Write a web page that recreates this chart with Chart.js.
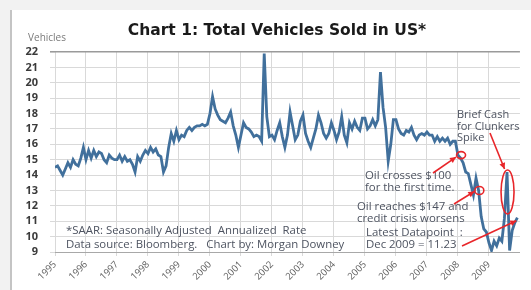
<!DOCTYPE html>
<html><head><meta charset="utf-8">
<script src="https://cdn.jsdelivr.net/npm/chart.js@4/dist/chart.umd.min.js"></script>
<style>
html,body{margin:0;padding:0;background:#fff;width:531px;height:290px;overflow:hidden;}
.topband{position:absolute;left:0;top:0;width:531px;height:10px;background:#f2f2f2;}
.leftband{position:absolute;left:0;top:0;width:10px;height:290px;background:#f2f2f2;}
.leftline{position:absolute;left:10px;top:10px;width:2px;height:280px;background:#c4c4c4;}
#wrap{position:absolute;left:0;top:0;width:531px;height:290px;}
</style>
</head><body>
<div class="topband"></div><div class="leftband"></div><div class="leftline"></div>
<div id="wrap"><canvas id="c" width="531" height="290"></canvas></div>
<script>
const startYear = 1995;
const tickYears = [1995,1996,1997,1998,1999,2000,2001,2002,2003,2004,2005,2006,2007,2008,2009];
const yTicks = [9,10,11,12,13,14,15,16,17,18,19,20,21,22];
// Total vehicles sold in US, SAAR (millions), monthly Jan 1995 - Dec 2009
const sales = [
 14.5,14.6,14.3,14.0,14.4,14.8,14.5,15.0,14.7,14.6,15.1,15.8,
 15.0,15.6,15.1,15.6,15.2,15.5,15.4,15.0,14.8,15.3,15.1,15.0,
 15.0,15.3,14.9,15.2,14.9,15.0,14.7,14.2,15.2,14.9,15.3,15.6,
 15.4,15.8,15.5,15.7,15.3,15.2,14.2,14.6,15.8,16.7,16.2,16.9,
 16.3,16.6,16.5,16.9,17.1,16.9,17.1,17.2,17.2,17.3,17.2,17.3,
 18.0,19.1,18.3,17.9,17.6,17.5,17.4,17.7,18.1,17.2,16.6,15.8,
 16.6,17.4,17.1,17.0,16.8,16.5,16.6,16.5,16.2,21.9,17.8,16.5,
 16.6,16.3,16.9,17.4,16.5,15.8,16.6,18.1,17.2,16.3,16.6,17.5,
 17.9,16.7,16.2,15.8,16.4,17.0,17.9,17.4,16.7,16.4,16.7,17.4,
 16.9,16.3,16.8,17.8,16.6,16.1,17.4,17.0,17.5,17.1,16.9,17.7,
 17.7,17.0,17.2,17.6,17.2,17.6,20.7,18.4,17.1,14.9,16.0,17.6,
 17.6,17.0,16.7,16.6,16.9,16.8,17.1,16.6,16.3,16.6,16.7,16.6,
 16.8,16.6,16.6,16.2,16.5,16.2,16.4,16.2,16.4,16.0,16.2,16.2,
 15.3,15.1,14.8,14.2,14.1,13.4,12.7,13.8,13.0,11.3,10.5,10.3,
 9.6,9.1,9.7,9.4,9.9,9.7,11.2,14.2,9.1,10.4,10.9,11.23
];
const titleText = 'Chart 1: Total Vehicles Sold in US*';
const unitText = 'Vehicles';
const noteLines = ['*SAAR: Seasonally Adjusted  Annualized  Rate', 'Data source: Bloomberg.   Chart by: Morgan Downey'];
const ann1 = ['Oil crosses $100', 'for the first time.'];
const ann2 = ['Oil reaches $147 and', 'credit crisis worsens'];
const ann3 = ['Latest Datapoint  :', 'Dec 2009 = 11.23'];
const ann4 = ['Brief Cash', 'for Clunkers', 'Spike'];

const points = sales.map((v,i)=>({x: startYear + i/12, y: v}));

function arrow(ctx, x1,y1,x2,y2){
  ctx.beginPath(); ctx.moveTo(x1,y1); ctx.lineTo(x2,y2); ctx.stroke();
  const a = Math.atan2(y2-y1,x2-x1), L=6, W=3;
  ctx.beginPath();
  ctx.moveTo(x2,y2);
  ctx.lineTo(x2-L*Math.cos(a)+W*Math.sin(a), y2-L*Math.sin(a)-W*Math.cos(a));
  ctx.lineTo(x2-L*Math.cos(a)-W*Math.sin(a), y2-L*Math.sin(a)+W*Math.cos(a));
  ctx.closePath(); ctx.fill();
}

const overlay = {
  id:'overlay',
  afterDraw(chart){
    const ctx = chart.ctx, xs = chart.scales.x, ys = chart.scales.y;
    ctx.save();
    ctx.fillStyle = '#1a1a1a';
    ctx.font = 'bold 15.5px "DejaVu Sans"';
    ctx.textAlign='center'; ctx.textBaseline='middle';
    ctx.fillText(titleText, 277, 31);
    ctx.fillStyle = '#7a7a7a';
    ctx.font = '10px "Open Sans"';
    ctx.textAlign='right';
    ctx.fillText(unitText, 66, 38);
    ctx.textAlign='left';
    ctx.fillStyle = '#4d5360';
    ctx.font = '11.4px "Open Sans"';
    ctx.fillText(noteLines[0], 66, 231);
    ctx.fillText(noteLines[1], 66, 245);
    ctx.fillText(ann1[0], 365, 176); ctx.fillText(ann1[1], 365, 187.5);
    ctx.fillText(ann2[0], 357, 207); ctx.fillText(ann2[1], 357, 219);
    ctx.fillText(ann3[0], 366, 233); ctx.fillText(ann3[1], 366, 244.5);
    ctx.font = '11px "Open Sans"';
    ctx.fillText(ann4[0], 457, 115); ctx.fillText(ann4[1], 457, 126.5); ctx.fillText(ann4[2], 457, 137.5);
    // red marks
    ctx.strokeStyle = '#e8262a'; ctx.fillStyle = '#e8262a'; ctx.lineWidth = 1.6;
    const c1x = xs.getPixelForValue(2008.1), c1y = ys.getPixelForValue(15.3);
    ctx.beginPath(); ctx.ellipse(c1x, c1y, 4.5, 3.5, 0, 0, Math.PI*2); ctx.stroke();
    const c2x = xs.getPixelForValue(2008.69), c2y = ys.getPixelForValue(13.0);
    ctx.beginPath(); ctx.ellipse(c2x, c2y, 4.5, 4, 0, 0, Math.PI*2); ctx.stroke();
    const e3x = xs.getPixelForValue(2009.6), e3y = ys.getPixelForValue(12.9);
    ctx.beginPath(); ctx.ellipse(e3x, e3y, 6.5, 22, 0, 0, Math.PI*2); ctx.stroke();
    arrow(ctx, 433, 173, c1x-5, c1y+2);
    arrow(ctx, 454, 204, c2x-5, c2y+1);
    const lx = xs.getPixelForValue(startYear + (sales.length-1)/12), ly = ys.getPixelForValue(sales[sales.length-1]);
    arrow(ctx, 462, 246, lx-1, ly+3);
    arrow(ctx, 490, 133, e3x-3, e3y-23);
    ctx.restore();
  }
};

new Chart(document.getElementById('c'), {
  type:'line',
  data:{ datasets:[{ data: points, borderColor:'#41709c', borderWidth:2.8, pointRadius:0, tension:0, fill:false }] },
  options:{
    responsive:false, animation:false,
    layout:{ padding:{ top:52, right:7, left:0, bottom:0 } },
    plugins:{ legend:{display:false}, tooltip:{enabled:false}, title:{display:false} },
    scales:{
      x:{ type:'linear', min:1995, max:2010,
        afterFit(a){ a.height = 38; },
        ticks:{ stepSize:1, autoSkip:false, maxRotation:45, minRotation:45, color:'#606060',
          font:{ family:'"Open Sans"', size:9.5 },
          callback:(v)=> tickYears.includes(v) ? String(v) : '' },
        grid:{ color:(c)=> (c.tick && c.tick.value===2010) ? 'rgba(0,0,0,0)' : '#d9d9d9', tickLength:4, lineWidth:1 },
        border:{ color:'#a8a8a8' } },
      y:{ min:9, max:22,
        afterFit(a){ a.width = 55; },
        afterBuildTicks(a){ a.ticks = yTicks.map(v=>({value:v})); },
        ticks:{ autoSkip:false, color:'#3a3a3a', padding:12, font:{ family:'"Open Sans"', size:11, weight:'bold' } },
        grid:{ color:(c)=> (c.tick && c.tick.value===22) ? '#9a9a9a' : '#d9d9d9', lineWidth:(c)=> (c.tick && c.tick.value===22) ? 1.6 : 1, tickLength:5 },
        border:{ display:false } }
    }
  },
  plugins:[overlay]
});
</script>
</body></html>
